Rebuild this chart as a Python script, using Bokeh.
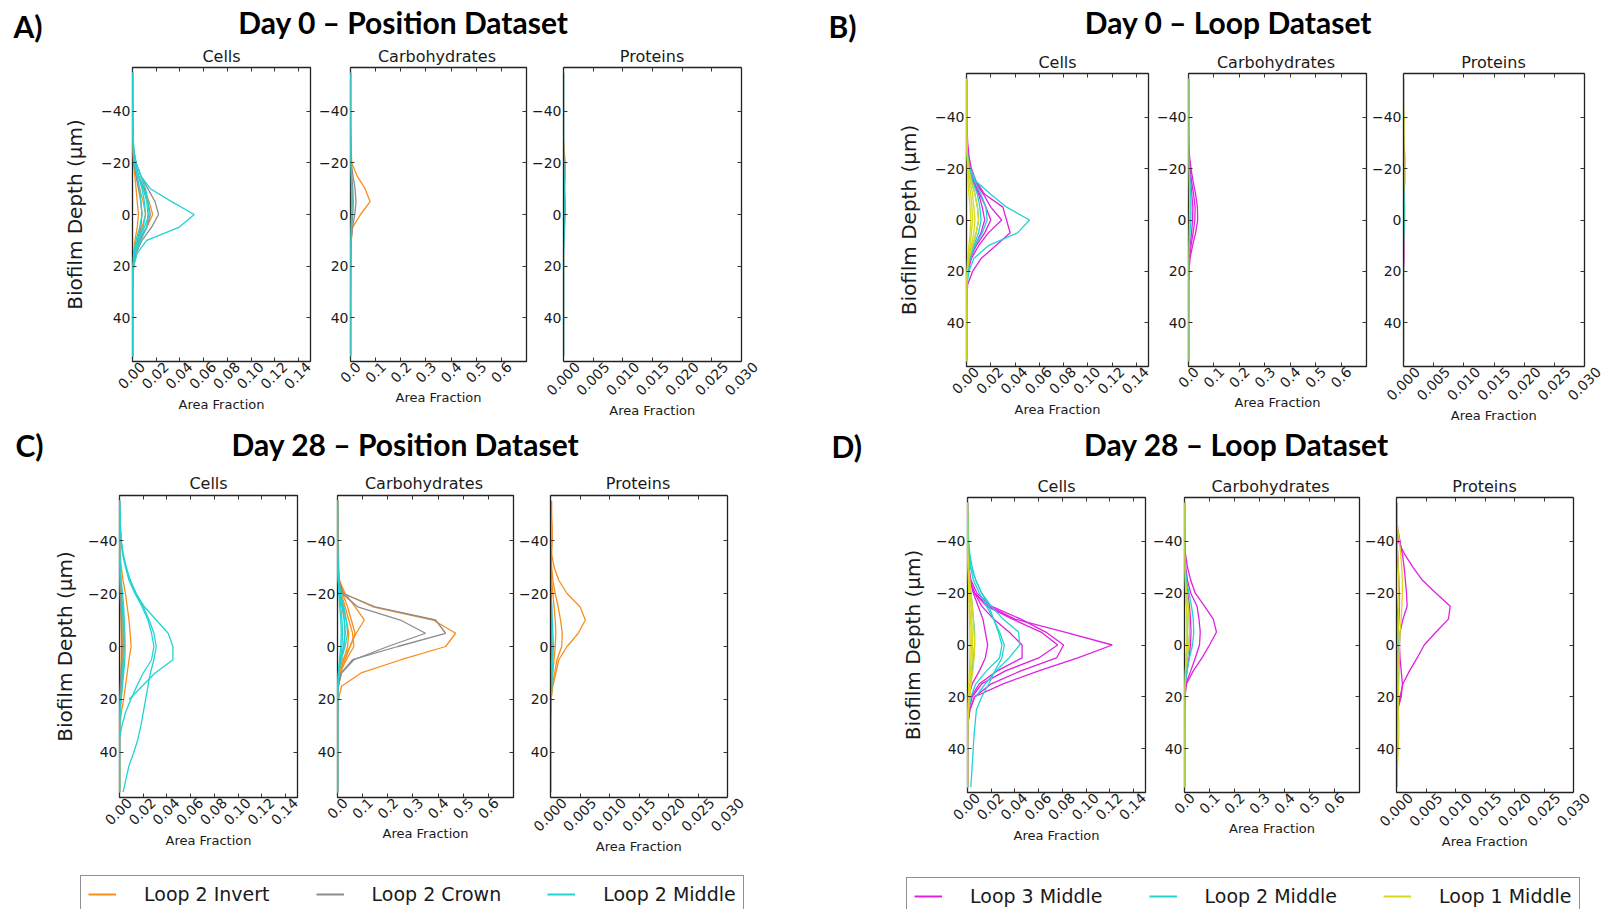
import math
import numpy as np
from bokeh.plotting import figure
from bokeh.models import (Range1d, LinearAxis, FixedTicker, PrintfTickFormatter, Label,
                          Legend, LegendItem)
from bokeh.layouts import row, column
from bokeh.embed import file_html
from bokeh.resources import INLINE
from bokeh.core.validation import silence
from bokeh.core.validation.warnings import MISSING_RENDERERS

silence(MISSING_RENDERERS, True)
nan = float("nan")

# ---------------- data ----------------
DEPTH = [-55, -50, -45, -40, -35, -30, -25, -20, -15, -10, -5, 0, 5, 10, 15, 20, 25, 30, 35, 40, 45, 50, 55]
DEPTH_RANGE = (57, -57)
Y_TICKS = [-40, -20, 0, 20, 40]
Y_TICK_LABELS = ["\u221240", "\u221220", "0", "20", "40"]
CELL_TICKS = [0.0, 0.02, 0.04, 0.06, 0.08, 0.10, 0.12, 0.14]
CARB_TICKS = [0.0, 0.1, 0.2, 0.3, 0.4, 0.5, 0.6]
PROT_TICKS = [0.0, 0.005, 0.010, 0.015, 0.020, 0.025, 0.030]
SUBPLOT_TITLES = ["Cells", "Carbohydrates", "Proteins"]
PANEL_LETTERS = ["A)", "B)", "C)", "D)"]
PANEL_TITLES = ["Day 0 \u2013 Position Dataset", "Day 0 \u2013 Loop Dataset",
                "Day 28 \u2013 Position Dataset", "Day 28 \u2013 Loop Dataset"]
POSITION_SERIES = ["Loop 2 Invert", "Loop 2 Crown", "Loop 2 Middle"]
LOOP_SERIES = ["Loop 3 Middle", "Loop 2 Middle", "Loop 1 Middle"]
POSITION_COLORS = ["#f98e1d", "#8c8c8c", "#22d3d3"]
LOOP_COLORS = ["#e020e0", "#22d3d3", "#d8d81c"]
Y_LABEL = "Biofilm Depth (\u03bcm)"
X_LABEL = "Area Fraction"

# ---- A) Day 0 - Position ----
A_CELLS_INVERT = [
    [0, 0, 0, 0, 0, 0, 0.0005, 0.002, 0.005, 0.010, 0.014, 0.017, 0.012, 0.005, 0.002, 0.0006, 0, 0, 0, 0, 0, 0, 0],
    [0, 0, 0, 0, 0, 0, 0, 0.0008, 0.002, 0.003, 0.004, 0.005, 0.004, 0.002, 0.001, 0.0004, 0.0001, 0, 0, 0, 0, 0, 0],
    [0, 0, 0, 0, 0, 0, 0.0003, 0.001, 0.003, 0.006, 0.009, 0.011, 0.008, 0.004, 0.0015, 0.0005, 0, 0, 0, 0, 0, 0, 0],
]
A_CELLS_CROWN = [
    [0, 0, 0, 0, 0, 0.0002, 0.0008, 0.003, 0.007, 0.013, 0.019, 0.022, 0.016, 0.008, 0.003, 0.001, 0.0003, 0, 0, 0, 0, 0, 0],
    [0, 0, 0, 0, 0, 0, 0.0004, 0.0015, 0.005, 0.010, 0.013, 0.015, 0.012, 0.006, 0.002, 0.0006, 0.0002, 0, 0, 0, 0, 0, 0],
    [0, 0, 0, 0, 0, 0, 0.0002, 0.001, 0.003, 0.005, 0.007, 0.008, 0.007, 0.004, 0.0015, 0.0004, 0, 0, 0, 0, 0, 0, 0],
]
A_CELLS_MIDDLE = [
    [0, 0, 0, 0, 0.0002, 0.0005, 0.001, 0.003, 0.007, 0.015, 0.033, 0.052, 0.039, 0.012, 0.004, 0.001, 0.0002, 0, 0, 0, 0, 0, 0],
    [0, 0, 0, 0, 0.0003, 0.0006, 0.0012, 0.003, 0.007, 0.011, 0.013, 0.014, 0.010, 0.005, 0.002, 0.0005, 0, 0, 0, 0, 0, 0, 0],
    [0, 0, 0, 0, 0, 0.0003, 0.001, 0.002, 0.005, 0.008, 0.010, 0.011, 0.009, 0.004, 0.0015, 0.0004, 0, 0, 0, 0, 0, 0, 0],
    [0, 0, 0, 0, 0, 0.0002, 0.0006, 0.0015, 0.004, 0.006, 0.007, 0.008, 0.006, 0.003, 0.001, 0.0003, 0, 0, 0, 0, 0, 0, 0],
    [0, 0, 0, 0, 0, 0.0003, 0.0008, 0.002, 0.005, 0.009, 0.012, 0.013, 0.012, 0.007, 0.002, 0.0005, 0, 0, 0, 0, 0, 0, 0],
]
A_CARB_INVERT = [
    [0, 0, 0, 0, 0, 0.002, 0.003, 0.005, 0.026, 0.058, 0.078, 0.040, 0.008, 0.003, 0.002, 0.002, 0.001, 0.0005, 0, 0, 0, 0, 0],
    [0, 0, 0, 0, 0, 0, 0.001, 0.002, 0.004, 0.006, 0.007, 0.005, 0.003, 0.001, 0, 0, 0, 0, 0, 0, 0, 0, 0],
]
A_CARB_CROWN = [
    [0, 0, 0, 0, 0, 0, 0.001, 0.003, 0.010, 0.018, 0.022, 0.017, 0.008, 0.003, 0.001, 0, 0, 0, 0, 0, 0, 0, 0],
    [0, 0, 0, 0, 0, 0, 0.0005, 0.002, 0.005, 0.009, 0.011, 0.009, 0.004, 0.001, 0, 0, 0, 0, 0, 0, 0, 0, 0],
]
A_CARB_MIDDLE = [
    [0, 0, 0, 0, 0, 0, 0.0005, 0.001, 0.003, 0.005, 0.006, 0.005, 0.003, 0.001, 0, 0, 0, 0, 0, 0, 0, 0, 0],
    [0, 0, 0, 0, 0, 0, 0, 0.0005, 0.002, 0.003, 0.004, 0.003, 0.002, 0.0005, 0, 0, 0, 0, 0, 0, 0, 0, 0],
]
A_PROT_INVERT = [
    [0, 0, 0, 0, 0, 0, 0.0001, 0.0003, 0.0003, 0.0002, 0.0001, 0.0001, 0, 0, 0, 0, 0, 0, 0, 0, 0, 0, 0],
]
A_PROT_CROWN = [
    [0, 0, 0, 0, 0, 0, 0, 0.0001, 0.0001, 0.0001, 0.0001, 0.0001, 0, 0, 0, 0, 0, 0, 0, 0, 0, 0, 0],
]
A_PROT_MIDDLE = [
    [0, 0, 0, 0, 0, 0, 0, 0, 0.0001, 0.0002, 0.0003, 0.0003, 0.0002, 0.0001, 0, 0, 0, 0, 0, 0, 0, 0, 0],
    [0, 0, 0, 0, 0, 0, 0, 0, 0, 0.0001, 0.0002, 0.0002, 0.0001, 0, 0, 0, 0, 0, 0, 0, 0, 0, 0],
]

# ---- B) Day 0 - Loop ----
B_CELLS_L3 = [
    [0, 0, 0, 0.0002, 0.0005, 0.001, 0.002, 0.004, 0.008, 0.015, 0.030, 0.033, 0.036, 0.024, 0.012, 0.005, 0.001, 0.0003, 0, 0, 0, 0, 0],
    [0, 0, 0, 0, 0.0002, 0.0006, 0.0015, 0.003, 0.007, 0.014, 0.020, 0.029, 0.018, 0.010, 0.004, 0.0012, 0.0003, 0, 0, 0, 0, 0, 0],
    [0, 0, 0, 0, 0, 0.0004, 0.001, 0.003, 0.006, 0.011, 0.016, 0.020, 0.015, 0.008, 0.003, 0.001, 0.0002, 0, 0, 0, 0, 0, 0],
    [0, 0, 0, 0, 0, 0.0003, 0.001, 0.002, 0.005, 0.010, 0.013, 0.015, 0.012, 0.007, 0.003, 0.0008, 0, 0, 0, 0, 0, 0, 0],
]
B_CELLS_L2 = [
    [0, 0, 0, 0, 0, 0.0003, 0.001, 0.003, 0.008, 0.020, 0.033, 0.052, 0.042, 0.018, 0.006, 0.002, 0.0005, 0, 0, 0, 0, 0, 0],
    [0, 0, 0, 0, 0, 0.0002, 0.0008, 0.0025, 0.007, 0.012, 0.016, 0.017, 0.013, 0.007, 0.003, 0.001, 0.0002, 0, 0, 0, 0, 0, 0],
    [0, 0, 0, 0, 0, 0, 0.0005, 0.002, 0.005, 0.009, 0.011, 0.012, 0.010, 0.006, 0.002, 0.0006, 0, 0, 0, 0, 0, 0, 0],
    [0, 0, 0, 0, 0, 0, 0.0004, 0.0015, 0.004, 0.007, 0.009, 0.010, 0.008, 0.005, 0.002, 0.0005, 0, 0, 0, 0, 0, 0, 0],
]
B_CELLS_L1 = [
    [0, 0, 0, 0, 0, 0.0002, 0.0008, 0.002, 0.004, 0.007, 0.009, 0.010, 0.008, 0.005, 0.002, 0.0006, 0.0001, 0, 0, 0, 0, 0, 0],
    [0, 0, 0, 0, 0, 0.0002, 0.0006, 0.0015, 0.003, 0.005, 0.006, 0.007, 0.006, 0.004, 0.0015, 0.0005, 0, 0, 0, 0, 0, 0, 0],
    [0, 0, 0, 0, 0, 0, 0.0004, 0.001, 0.002, 0.0035, 0.0045, 0.005, 0.004, 0.003, 0.001, 0.0003, 0, 0, 0, 0, 0, 0, 0],
    [0, 0, 0, 0, 0, 0, 0.0002, 0.0006, 0.0012, 0.002, 0.003, 0.0035, 0.003, 0.002, 0.0008, 0.0002, 0, 0, 0, 0, 0, 0, 0],
]
B_CARB_L3 = [
    [0, 0, 0, 0, 0, 0.001, 0.004, 0.010, 0.018, 0.028, 0.035, 0.036, 0.028, 0.016, 0.006, 0.002, 0, 0, 0, 0, 0, 0, 0],
    [0, 0, 0, 0, 0, 0, 0.002, 0.006, 0.012, 0.020, 0.026, 0.025, 0.018, 0.010, 0.004, 0.001, 0, 0, 0, 0, 0, 0, 0],
    [0, 0, 0, 0, 0, 0, 0.001, 0.004, 0.008, 0.013, 0.017, 0.016, 0.012, 0.006, 0.002, 0.0005, 0, 0, 0, 0, 0, 0, 0],
]
B_CARB_L2 = [
    [0, 0, 0, 0, 0, 0, 0.001, 0.003, 0.006, 0.009, 0.010, 0.009, 0.006, 0.003, 0.001, 0, 0, 0, 0, 0, 0, 0, 0],
    [0, 0, 0, 0, 0, 0, 0, 0.001, 0.003, 0.005, 0.006, 0.005, 0.003, 0.001, 0, 0, 0, 0, 0, 0, 0, 0, 0],
]
B_CARB_L1 = [
    [0, 0, 0, 0, 0, 0, 0, 0.001, 0.002, 0.003, 0.004, 0.003, 0.002, 0.001, 0, 0, 0, 0, 0, 0, 0, 0, 0],
]
B_PROT_L3 = [
    [0, 0, 0, 0, 0, 0.0001, 0.0002, 0.0002, 0.0002, 0.0001, 0.0001, 0.0001, 0.0001, 0.0001, 0.0001, 0, 0, 0, 0, 0, 0, 0, 0],
]
B_PROT_L2 = [
    [0, 0, 0, 0, 0, 0, 0, 0, 0.0001, 0.0001, 0.0002, 0.0002, 0.0001, 0, 0, 0, 0, 0, 0, 0, 0, 0, 0],
]
B_PROT_L1 = [
    [0, 0, 0, 0.0001, 0.0001, 0.0001, 0.0001, 0.0001, 0.0001, 0, 0, 0, 0, 0, 0, 0, 0, 0, 0, 0, 0, 0, 0],
]

# ---- C) Day 28 - Position ----
C_CELLS_INVERT = [
    [0, 0, 0, 0, 0.0005, 0.0015, 0.003, 0.005, 0.0065, 0.008, 0.009, 0.0098, 0.008, 0.0065, 0.005, 0.0035, 0.0015, 0.0003, 0, 0, 0, 0, 0],
    [0, 0, 0, 0, 0, 0.0003, 0.001, 0.002, 0.003, 0.0035, 0.004, 0.004, 0.0035, 0.003, 0.002, 0.001, 0.0003, 0, 0, 0, 0, 0, 0],
    [0, 0, 0, 0, 0, 0, 0.0005, 0.0015, 0.002, 0.0028, 0.003, 0.0032, 0.003, 0.0022, 0.0015, 0.0008, 0.0002, 0, 0, 0, 0, 0, 0],
    [0, 0, 0, 0, 0, 0, 0.0003, 0.001, 0.0015, 0.002, 0.0022, 0.0024, 0.0022, 0.0018, 0.001, 0.0005, 0.0001, 0, 0, 0, 0, 0, 0],
    [0, 0, 0, 0, 0, 0, 0.0002, 0.0006, 0.001, 0.0013, 0.0015, 0.0016, 0.0015, 0.0012, 0.0008, 0.0003, 0, 0, 0, 0, 0, 0, 0],
]
C_CELLS_CROWN = [
    [0, 0, 0, 0, 0, 0, 0.0002, 0.0005, 0.001, 0.0015, 0.0018, 0.002, 0.0018, 0.0012, 0.0006, 0.0002, 0, 0, 0, 0, 0, 0, 0],
]
C_CELLS_MIDDLE = [
    [0, 0.0003, 0.0008, 0.0014, 0.003, 0.0056, 0.009, 0.014, 0.021, 0.031, 0.041, 0.045, 0.045, 0.030, 0.019, 0.008, nan, nan, nan, nan, nan, nan, nan],
    [0, 0.0003, 0.0008, 0.0015, 0.003, 0.0055, 0.009, 0.014, 0.020, 0.025, 0.029, 0.031, 0.029, 0.026, 0.024, 0.022, 0.020, 0.018, 0.0155, 0.012, 0.008, 0.0055, 0.003],
    [0, 0.0002, 0.0006, 0.0012, 0.0025, 0.005, 0.008, 0.013, 0.019, 0.024, 0.027, 0.029, 0.027, 0.020, 0.0145, 0.0095, 0.005, 0.002, 0, 0, 0, 0, 0],
    [0, 0, 0, 0, 0.0003, 0.0008, 0.0015, 0.0025, 0.0035, 0.004, 0.0045, 0.0048, 0.0045, 0.0035, 0.0025, 0.0015, 0.0006, 0.0002, 0, 0, 0, 0, 0],
    [0, 0, 0, 0, 0, 0.0004, 0.001, 0.0018, 0.0025, 0.003, 0.0033, 0.0035, 0.0032, 0.0025, 0.0018, 0.001, 0.0004, 0, 0, 0, 0, 0, 0],
]
C_CARB_INVERT = [
    [0, 0, 0, 0, 0.001, 0.002, 0.006, 0.025, 0.14, 0.38, 0.47, 0.43, 0.253, 0.094, 0.016, 0.004, 0.001, 0, 0, 0, 0, 0, 0],
    [0.002, 0.002, 0.003, 0.003, 0.004, 0.005, 0.008, 0.030, 0.070, 0.107, 0.074, 0.050, 0.030, 0.012, 0.004, 0.001, 0, 0, 0, 0, 0, 0, 0],
    [0, 0, 0, 0.001, 0.002, 0.003, 0.006, 0.020, 0.040, 0.055, 0.070, 0.050, 0.020, 0.005, 0.001, 0, 0, 0, 0, 0, 0, 0, 0],
    [0, 0, 0, 0, 0.001, 0.002, 0.004, 0.015, 0.030, 0.045, 0.060, 0.065, 0.035, 0.010, 0.002, 0, 0, 0, 0, 0, 0, 0, 0],
    [0, 0, 0, 0, 0, 0.001, 0.003, 0.010, 0.022, 0.035, 0.045, 0.040, 0.025, 0.008, 0.002, 0, 0, 0, 0, 0, 0, 0, 0],
]
C_CARB_CROWN = [
    [0, 0, 0, 0, 0, 0.001, 0.005, 0.022, 0.15, 0.39, 0.43, 0.24, 0.06, 0.015, 0.003, 0, 0, 0, 0, 0, 0, 0, 0],
    [0, 0, 0, 0, 0, 0.001, 0.004, 0.018, 0.08, 0.25, 0.35, 0.20, 0.065, 0.016, 0.003, 0, 0, 0, 0, 0, 0, 0, 0],
    [0, 0, 0, 0, 0, 0, 0.002, 0.008, 0.018, 0.027, 0.030, 0.025, 0.012, 0.004, 0.001, 0, 0, 0, 0, 0, 0, 0, 0],
]
C_CARB_MIDDLE = [
    [0, 0, 0, 0, 0.001, 0.002, 0.005, 0.012, 0.025, 0.035, 0.040, 0.030, 0.015, 0.005, 0.001, 0, 0, 0, 0, 0, 0, 0, 0],
    [0, 0, 0, 0, 0, 0.001, 0.004, 0.010, 0.020, 0.028, 0.030, 0.025, 0.012, 0.004, 0.001, 0, 0, 0, 0, 0, 0, 0, 0],
    [0, 0, 0, 0, 0, 0.001, 0.003, 0.007, 0.013, 0.018, 0.020, 0.018, 0.010, 0.003, 0.001, 0, 0, 0, 0, 0, 0, 0, 0],
    [0, 0, 0, 0, 0, 0, 0.002, 0.005, 0.009, 0.013, 0.015, 0.013, 0.008, 0.003, 0.001, 0.0005, 0.0005, 0.0003, 0.0002, 0, 0, 0, 0],
]
C_PROT_INVERT = [
    [0.0002, 0.0002, 0.0003, 0.0003, 0.0002, 0.0006, 0.0014, 0.0028, 0.0050, 0.0059, 0.0047, 0.0028, 0.0014, 0.0009, 0.0004, 0.0001, 0, 0, 0, 0, 0, 0, 0],
    [0, 0, 0, 0, 0.0001, 0.0002, 0.0004, 0.0008, 0.0013, 0.0017, 0.0020, 0.0019, 0.0011, 0.0007, 0.0003, 0.0001, 0, 0, 0, 0, 0, 0, 0],
    [0, 0, 0, 0, 0, 0.0001, 0.0002, 0.0004, 0.0006, 0.0008, 0.0009, 0.0008, 0.0006, 0.0004, 0.0002, 0.0001, 0, 0, 0, 0, 0, 0, 0],
]
C_PROT_CROWN = [
    [0, 0, 0, 0, 0, 0, 0, 0.0001, 0.0002, 0.0002, 0.0002, 0.0002, 0.0001, 0, 0, 0, 0, 0, 0, 0, 0, 0, 0],
]
C_PROT_MIDDLE = [
    [0, 0, 0, 0, 0, 0, 0, 0.0001, 0.0002, 0.0003, 0.0004, 0.0005, 0.0004, 0.0003, 0.0002, 0.0001, 0, 0, 0, 0, 0, 0, 0],
    [0, 0, 0, 0, 0, 0, 0, 0, 0.0001, 0.0002, 0.0002, 0.0003, 0.0003, 0.0002, 0.0002, 0.0001, 0.0001, 0, 0, 0, 0, 0, 0],
]

# ---- D) Day 28 - Loop ----
D_CELLS_L3 = [
    [0, 0, 0.0002, 0.0004, 0.0008, 0.0012, 0.0016, 0.006, 0.018, 0.040, 0.082, 0.122, 0.093, 0.060, 0.030, 0.006, 0.002, 0.0005, 0, 0, 0, 0, 0],
    [0, 0, 0, 0.0002, 0.0005, 0.001, 0.003, 0.008, 0.020, 0.045, 0.066, 0.081, 0.075, 0.045, 0.020, 0.006, 0.002, 0.0005, 0, 0, 0, 0, 0],
    [0, 0, 0, 0, 0.0003, 0.0008, 0.002, 0.006, 0.016, 0.038, 0.062, 0.076, 0.060, 0.032, 0.012, 0.004, 0.001, 0, 0, 0, 0, 0, 0],
    [0, 0, 0, 0, 0.0003, 0.0008, 0.002, 0.006, 0.012, 0.022, 0.035, 0.046, 0.046, 0.025, 0.010, 0.003, 0.0008, 0, 0, 0, 0, 0, 0],
    [0, 0, 0, 0, 0, 0.0005, 0.002, 0.005, 0.009, 0.013, 0.015, 0.017, 0.015, 0.010, 0.004, 0.001, 0.0002, 0, 0, 0, 0, 0, 0],
]
D_CELLS_L2 = [
    [0, 0.0003, 0.0006, 0.001, 0.002, 0.004, 0.007, 0.012, 0.018, 0.022, 0.027, 0.031, 0.029, 0.023, 0.018, 0.012, 0.0075, 0.0065, 0.0055, 0.0048, 0.0042, 0.0035, 0.0028],
    [0, 0, 0.0003, 0.0008, 0.0015, 0.003, 0.007, 0.012, 0.020, 0.030, 0.043, 0.044, 0.035, 0.024, 0.015, 0.007, nan, nan, nan, nan, nan, nan, nan],
    [0, 0, 0.0002, 0.0006, 0.0012, 0.0025, 0.005, 0.010, 0.016, 0.022, 0.026, 0.029, 0.027, 0.016, 0.007, 0.003, 0.001, 0.0003, 0, 0, 0, 0, 0],
    [0, 0, 0, 0, 0, 0.0005, 0.0015, 0.003, 0.004, 0.005, 0.006, 0.006, 0.005, 0.004, 0.002, 0.0008, 0.0002, 0, 0, 0, 0, 0, 0],
]
D_CELLS_L1 = [
    [0, 0, 0, 0, 0.0003, 0.001, 0.002, 0.003, 0.004, 0.005, 0.0055, 0.006, 0.0055, 0.0045, 0.003, 0.002, 0.001, 0.0003, 0, 0, 0, 0, 0],
    [0, 0, 0, 0, 0, 0.0005, 0.0012, 0.002, 0.003, 0.0037, 0.004, 0.0042, 0.004, 0.0033, 0.0022, 0.0012, 0.0005, 0, 0, 0, 0, 0, 0],
    [0, 0, 0, 0, 0, 0.0003, 0.0008, 0.0015, 0.002, 0.0026, 0.003, 0.0032, 0.003, 0.0025, 0.0016, 0.0008, 0.0003, 0, 0, 0, 0, 0, 0],
    [0, 0, 0, 0, 0, 0.0002, 0.0005, 0.001, 0.0014, 0.0018, 0.002, 0.0022, 0.002, 0.0017, 0.0011, 0.0005, 0.0002, 0, 0, 0, 0, 0, 0],
]
D_CARB_L3 = [
    [0, 0, 0, 0.001, 0.004, 0.012, 0.025, 0.043, 0.080, 0.115, 0.128, 0.100, 0.070, 0.035, 0.008, 0.002, 0, 0, 0, 0, 0, 0, 0],
    [0, 0, 0, 0.0005, 0.002, 0.005, 0.012, 0.025, 0.050, 0.058, 0.063, 0.060, 0.043, 0.025, 0.006, 0.001, 0, 0, 0, 0, 0, 0, 0],
    [0, 0, 0, 0, 0.001, 0.003, 0.007, 0.013, 0.020, 0.024, 0.026, 0.024, 0.018, 0.010, 0.003, 0.0005, 0, 0, 0, 0, 0, 0, 0],
]
D_CARB_L2 = [
    [0, 0, 0, 0, 0.001, 0.003, 0.008, 0.018, 0.028, 0.035, 0.037, 0.032, 0.020, 0.010, 0.003, 0.0005, 0, 0, 0, 0, 0, 0, 0],
    [0, 0, 0, 0, 0, 0.002, 0.005, 0.010, 0.015, 0.019, 0.020, 0.018, 0.012, 0.006, 0.002, 0.0003, 0, 0, 0, 0, 0, 0, 0],
    [0, 0, 0, 0, 0, 0.001, 0.002, 0.005, 0.008, 0.010, 0.011, 0.010, 0.007, 0.003, 0.001, 0.0003, 0.0002, 0.0002, 0.0001, 0, 0, 0, 0],
]
D_CARB_L1 = [
    [0, 0, 0, 0, 0, 0.001, 0.004, 0.010, 0.015, 0.018, 0.020, 0.017, 0.010, 0.004, 0.001, 0, 0, 0, 0, 0, 0, 0, 0],
    [0, 0, 0, 0, 0, 0.0005, 0.002, 0.005, 0.008, 0.010, 0.010, 0.009, 0.006, 0.003, 0.001, 0, 0, 0, 0, 0, 0, 0, 0],
]
D_PROT_L3 = [
    [0, 0, 0, 0.0003, 0.0014, 0.0028, 0.0044, 0.0067, 0.0091, 0.0088, 0.0067, 0.0047, 0.0035, 0.0022, 0.0011, 0.0006, 0.0002, 0, 0, 0, 0, 0, 0],
    [0, 0, 0.0002, 0.0006, 0.0010, 0.0013, 0.0015, 0.0017, 0.0018, 0.0011, 0.0006, 0.0005, 0.0006, 0.0008, 0.0010, 0.0008, 0.0002, 0, 0, 0, 0, 0, 0],
    [0, 0, 0, 0.0001, 0.0002, 0.0003, 0.0004, 0.0005, 0.0005, 0.0004, 0.0003, 0.0003, 0.0003, 0.0002, 0.0002, 0.0001, 0, 0, 0, 0, 0, 0, 0],
]
D_PROT_L2 = [
    [0, 0, 0, 0, 0, 0, 0, 0, 0.0001, 0.0002, 0.0003, 0.0004, 0.0005, 0.0004, 0.0003, 0.0002, 0.0001, 0.0001, 0, 0, 0, 0, 0],
]
D_PROT_L1 = [
    [0, 0.0001, 0.0002, 0.0005, 0.0007, 0.0009, 0.0010, 0.0010, 0.0009, 0.0008, 0.0006, 0.0005, 0.0004, 0.0004, 0.0004, 0.0003, 0.0003, 0.0004, 0.0004, 0.0003, 0.0002, 0.0001, 0],
    [0, 0, 0, 0.0001, 0.0002, 0.0003, 0.0004, 0.0004, 0.0004, 0.0003, 0.0003, 0.0002, 0.0002, 0.0002, 0.0002, 0.0001, 0.0001, 0.0001, 0.0001, 0, 0, 0, 0],
]

# ---------------- style helpers ----------------
X_SPECS = [(0.15, CELL_TICKS, "%.2f"), (0.7, CARB_TICKS, "%.1f"), (0.03, PROT_TICKS, "%.3f")]
LABEL_SHIFT_PX = [10, 8, 14]          # centre the 45-degree tick labels under their ticks
FRAME_EXT_PX = [0, 0, 16]             # room for the last, centred label of the protein panels
TXT = "#1a1a1a"
EDGE = "#222222"


def style_axis(ax, show_labels=True):
    ax.axis_line_color = None
    ax.major_tick_in = 4
    ax.major_tick_out = 0
    ax.major_tick_line_color = "#333333"
    ax.major_tick_line_width = 1
    ax.minor_tick_line_color = None
    ax.major_label_text_font = "DejaVu Sans"
    ax.axis_label_text_font = "DejaVu Sans"
    ax.axis_label_text_font_style = "normal"
    ax.axis_label_text_color = TXT
    if show_labels:
        ax.major_label_text_color = TXT
        ax.major_label_text_font_size = "14px"
        ax.major_label_standoff = 2
    else:
        ax.major_label_text_color = None
        ax.major_label_text_font_size = "0px"
        ax.major_label_standoff = 0


def edge(ax):
    ax.axis_line_color = EDGE
    ax.axis_line_width = 1.3


def make_sub(kind, groups, colors, w, h, bl, br, bt, bb, ylabel_standoff=None):
    xmax, xticks, fmt = X_SPECS[kind]
    box_w = w - bl - br
    ext = FRAME_EXT_PX[kind]
    x_end = xmax * (box_w + ext) / box_w
    p = figure(width=w, height=h, x_range=Range1d(0, x_end), y_range=Range1d(*DEPTH_RANGE),
               x_axis_type=None, y_axis_type=None, output_backend="svg", title=None,
               toolbar_location=None, min_border_left=bl, min_border_right=br - ext,
               min_border_top=bt, min_border_bottom=bb)
    if ext:
        p.outline_line_color = None
    else:
        p.outline_line_color = EDGE
        p.outline_line_width = 1.3
    bounds = (0, xmax) if ext else "auto"

    # bottom: tick marks
    xb = LinearAxis(ticker=FixedTicker(ticks=xticks), bounds=bounds)
    style_axis(xb, show_labels=False)
    if ext:
        edge(xb)
    p.add_layout(xb, "below")
    # bottom: 45-degree tick labels, centred under their ticks (shifted label scale)
    shift = LABEL_SHIFT_PX[kind] * xmax / box_w
    p.extra_x_ranges = {"labels": Range1d(-shift, x_end - shift)}
    xl = LinearAxis(x_range_name="labels", ticker=FixedTicker(ticks=xticks),
                    formatter=PrintfTickFormatter(format=fmt))
    style_axis(xl)
    xl.major_tick_in = 0
    xl.major_tick_line_color = None
    xl.major_label_orientation = math.pi / 4
    xl.major_label_standoff = 3
    if ext:
        p.add_layout(xl, "below")
        # axis title; the trailing no-break spaces re-centre it on the visible box
        n_pad = int(round(ext / (0.318 * 13)))
        xn = LinearAxis(ticker=FixedTicker(ticks=xticks), bounds=bounds,
                        axis_label=X_LABEL + "\u00a0" * n_pad)
        style_axis(xn, show_labels=False)
        xn.major_tick_in = 0
        xn.major_tick_line_color = None
        xn.axis_label_text_font_size = "13px"
        xn.axis_label_standoff = 0
        p.add_layout(xn, "below")
    else:
        xl.axis_label = X_LABEL
        xl.axis_label_text_font_size = "13px"
        xl.axis_label_standoff = 0
        p.add_layout(xl, "below")

    xt = LinearAxis(ticker=FixedTicker(ticks=xticks), bounds=bounds)
    style_axis(xt, show_labels=False)
    if ext:
        edge(xt)
    p.add_layout(xt, "above")

    yl = LinearAxis(ticker=FixedTicker(ticks=Y_TICKS),
                    major_label_overrides=dict(zip(Y_TICKS, Y_TICK_LABELS)))
    style_axis(yl)
    if ext:
        edge(yl)
    if ylabel_standoff is not None:
        yl.axis_label = Y_LABEL
        yl.axis_label_text_font_size = "20px"
        yl.axis_label_standoff = ylabel_standoff
    p.add_layout(yl, "left")

    yr = LinearAxis(ticker=FixedTicker(ticks=Y_TICKS))
    style_axis(yr, show_labels=False)
    if ext:
        edge(yr)
        yr.fixed_location = xmax
    p.add_layout(yr, "right")

    for series, color in zip(groups, colors):
        for vals in series:
            p.line(x=np.array(vals, dtype=float), y=np.array(DEPTH, dtype=float),
                   line_color=color, line_width=1.3)
    return p


BIG = ("Lato", "bold", "30px", "#000000")
SMALL = ("DejaVu Sans", "normal", "16px", TXT)


def header(w, h, items):
    p = figure(width=w, height=h, x_range=Range1d(0, w), y_range=Range1d(h, 0),
               x_axis_type=None, y_axis_type=None, output_backend="svg",
               toolbar_location=None, min_border=0)
    p.outline_line_color = None
    for text, x, y, align, style in items:
        font, weight, size, color = style
        p.add_layout(Label(x=x, y=y, text=text, text_align=align, text_baseline="middle",
                           text_font=font, text_font_style=weight,
                           text_font_size=size, text_color=color))
    return p


def legend_fig(w, names, colors, loc):
    p = figure(width=w, height=43, x_range=Range1d(0, 1), y_range=Range1d(0, 1),
               x_axis_type=None, y_axis_type=None, output_backend="svg",
               toolbar_location=None, min_border=0)
    p.outline_line_color = None
    items = []
    for name, color in zip(names, colors):
        r = p.line(x=[nan], y=[nan], line_color=color, line_width=2)
        items.append(LegendItem(label=name, renderers=[r]))
    lg = Legend(items=items, location=loc, orientation="horizontal")
    lg.label_text_font = "DejaVu Sans"
    lg.label_text_font_size = "19px"
    lg.label_text_color = TXT
    lg.glyph_width = 28
    lg.glyph_height = 16
    lg.label_height = 16
    lg.label_standoff = 28
    lg.spacing = 46
    lg.padding = 7
    lg.margin = 0
    lg.border_line_color = EDGE
    lg.border_line_width = 1.5
    lg.background_fill_color = "white"
    lg.background_fill_alpha = 1.0
    p.add_layout(lg)
    return p


# ---------------- assemble ----------------
LEFT_W, RIGHT_W = 760, 844

row_a = row(
    make_sub(0, [A_CELLS_INVERT, A_CELLS_CROWN, A_CELLS_MIDDLE], POSITION_COLORS, 315, 359, 132, 5, 1, 64, ylabel_standoff=11),
    make_sub(1, [A_CARB_INVERT, A_CARB_CROWN, A_CARB_MIDDLE], POSITION_COLORS, 213, 359, 32, 2, 1, 64),
    make_sub(2, [A_PROT_INVERT, A_PROT_CROWN, A_PROT_MIDDLE], POSITION_COLORS, 232, 359, 34, 19, 1, 64),
)
row_c = row(
    make_sub(0, [C_CELLS_INVERT, C_CELLS_CROWN, C_CELLS_MIDDLE], POSITION_COLORS, 302, 372, 119, 5, 1, 69, ylabel_standoff=8),
    make_sub(1, [C_CARB_INVERT, C_CARB_CROWN, C_CARB_MIDDLE], POSITION_COLORS, 213, 372, 32, 2, 1, 69),
    make_sub(2, [C_PROT_INVERT, C_PROT_CROWN, C_PROT_MIDDLE], POSITION_COLORS, 245, 372, 33, 33, 1, 69),
)
row_b = row(
    make_sub(0, [B_CELLS_L3, B_CELLS_L2, B_CELLS_L1], LOOP_COLORS, 393, 353, 206, 5, 1, 59, ylabel_standoff=11),
    make_sub(1, [B_CARB_L3, B_CARB_L2, B_CARB_L1], LOOP_COLORS, 215, 353, 32, 2, 1, 59),
    make_sub(2, [B_PROT_L3, B_PROT_L2, B_PROT_L1], LOOP_COLORS, 236, 353, 34, 20, 1, 59),
)
row_d = row(
    make_sub(0, [D_CELLS_L3, D_CELLS_L2, D_CELLS_L1], LOOP_COLORS, 389, 370, 207, 4, 1, 74, ylabel_standoff=8),
    make_sub(1, [D_CARB_L3, D_CARB_L2, D_CARB_L1], LOOP_COLORS, 212, 370, 32, 2, 1, 74),
    make_sub(2, [D_PROT_L3, D_PROT_L2, D_PROT_L1], LOOP_COLORS, 243, 370, 34, 31, 1, 74),
)

# headers: panel letter, panel title and the three sub-plot titles (centred on each box)
head_a = header(LEFT_W, 66, [(PANEL_LETTERS[0], 13, 25.5, "left", BIG),
                             (PANEL_TITLES[0], 403, 21, "center", BIG),
                             (SUBPLOT_TITLES[0], 221, 56, "center", SMALL),
                             (SUBPLOT_TITLES[1], 436.5, 56, "center", SMALL),
                             (SUBPLOT_TITLES[2], 651.5, 56, "center", SMALL)])
head_b = header(RIGHT_W, 72, [(PANEL_LETTERS[1], 68, 25, "left", BIG),
                              (PANEL_TITLES[1], 468, 21, "center", BIG),
                              (SUBPLOT_TITLES[0], 297, 62, "center", SMALL),
                              (SUBPLOT_TITLES[1], 515.5, 62, "center", SMALL),
                              (SUBPLOT_TITLES[2], 733, 62, "center", SMALL)])
head_c = header(LEFT_W, 69, [(PANEL_LETTERS[2], 15, 19, "left", BIG),
                             (PANEL_TITLES[2], 405, 18, "center", BIG),
                             (SUBPLOT_TITLES[0], 208, 58, "center", SMALL),
                             (SUBPLOT_TITLES[1], 423.5, 58, "center", SMALL),
                             (SUBPLOT_TITLES[2], 637.5, 58, "center", SMALL)])
head_d = header(RIGHT_W, 71, [(PANEL_LETTERS[3], 71, 20.5, "left", BIG),
                              (PANEL_TITLES[3], 476, 18.5, "center", BIG),
                              (SUBPLOT_TITLES[0], 296, 60.5, "center", SMALL),
                              (SUBPLOT_TITLES[1], 510, 60.5, "center", SMALL),
                              (SUBPLOT_TITLES[2], 724, 60.5, "center", SMALL)])

leg_a = legend_fig(LEFT_W, POSITION_SERIES, POSITION_COLORS, (80, -4))
leg_d = legend_fig(RIGHT_W, LOOP_SERIES, LOOP_COLORS, (146, -6))

left_col = column(head_a, row_a, head_c, row_c, leg_a)
right_col = column(head_b, row_b, head_d, row_d, leg_d)
layout = row(left_col, right_col)

open("out.html", "w").write(file_html(layout, INLINE, title="Biofilm depth profiles"))
